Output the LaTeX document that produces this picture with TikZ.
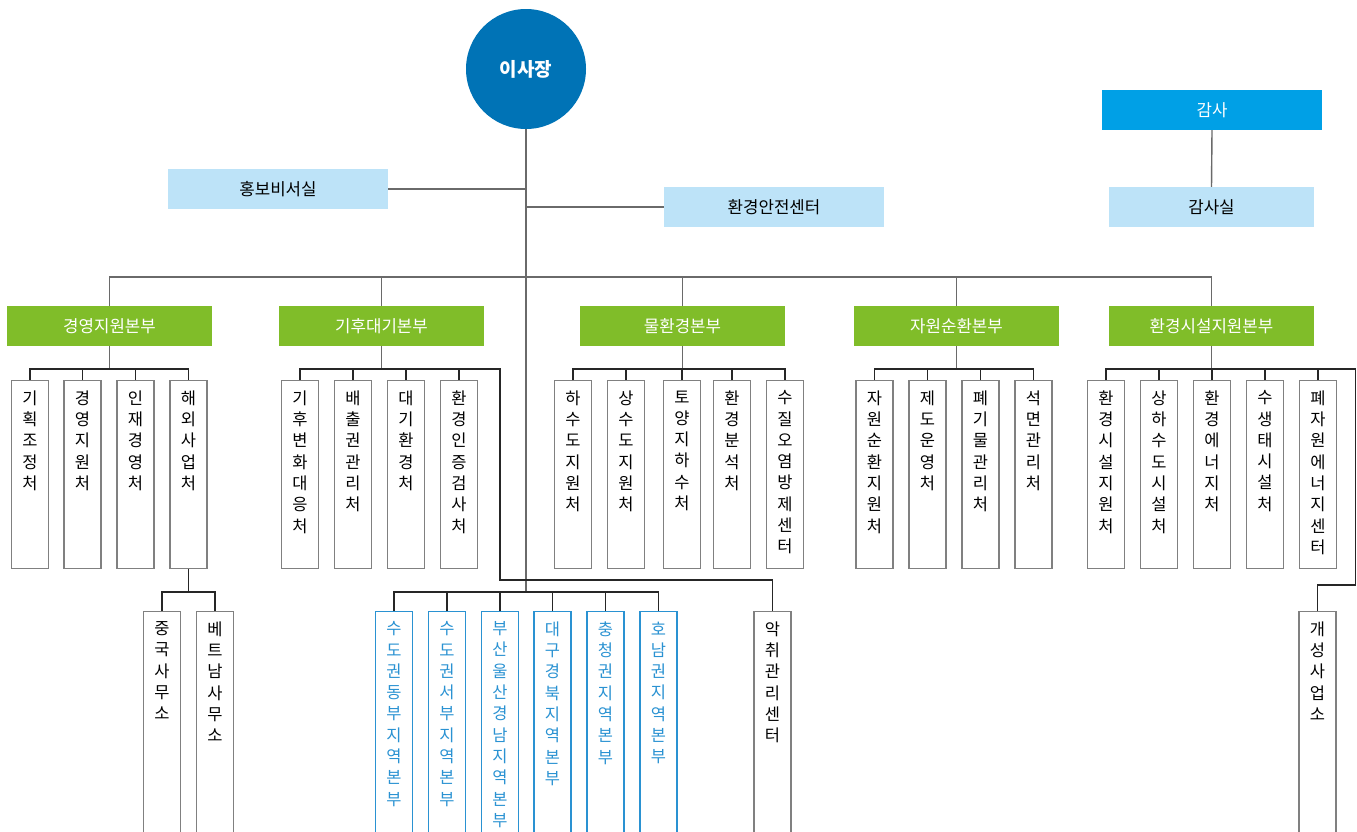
\documentclass[tikz,border=0pt]{standalone}
\usepackage{fontspec}
\setmainfont{Noto Sans CJK KR}
\definecolor{ceoblue}{HTML}{0073B6}
\definecolor{auditblue}{HTML}{00A0E6}
\definecolor{paleblue}{HTML}{BDE3F8}
\definecolor{hqgreen}{HTML}{80BD29}
\definecolor{regblue}{HTML}{2A92D2}
\definecolor{boxgray}{HTML}{808080}
\definecolor{linegray}{HTML}{6A6A6A}
% one character per line
\def\vt#1{\vtstep#1\vtend}
\def\vtstep#1#2\vtend{#1\ifx\relax#2\relax\else\\\vtstep#2\vtend\fi}
\newcommand\vlab[2][168pt]{\parbox[t][#1][t]{17pt}{\centering\expandafter\vt\expandafter{#2}}}
\tikzset{
  chief/.style = {circle,fill=ceoblue,minimum size=120pt,inner sep=0pt,
    text=white,font=\bfseries\fontsize{19}{21}\selectfont},
  staff/.style = {fill=paleblue,minimum width=220pt,minimum height=40pt,
    inner sep=0pt,font=\fontsize{16.8}{19}\selectfont},
  auditor/.style = {staff,fill=auditblue,text=white},
  hq/.style = {staff,fill=hqgreen,text=white,minimum width=205pt},
  unit/.style = {draw=boxgray,line width=1.2pt,minimum width=37pt,
    inner xsep=9.5pt,inner ysep=10pt,anchor=north,
    font=\fontsize{16.5}{21.3}\selectfont},
  region/.style = {unit,draw=regblue,text=regblue},
  link/.style = {draw=linegray,line width=1.4pt},
  sublink/.style = {draw=black!85,line width=1.2pt}
}

\begin{document}
\begin{tikzpicture}[x=1pt,y=-1pt]
  \useasboundingbox (0,0) rectangle (1357,831);
  \clip (0,0) rectangle (1357,831);
  % top
  \node[chief] (ceo) at (526,69) {이사장};
  \node[staff] (pr) at (278,189) {홍보비서실};
  \node[staff] (safety) at (774,207) {환경안전센터};
  \node[auditor] (audit) at (1212,110) {감사};
  \node[staff,minimum width=205pt] (auditoff) at (1211.5,207) {감사실};
  \coordinate (trunk) at (526,592);
  \coordinate (bus) at (0,277);
  \coordinate (sub) at (0,369);
  % headquarters
  \node[hq] (hq1) at (109.5,326) {경영지원본부};
  \node[hq] (hq2) at (381.5,326) {기후대기본부};
  \node[hq] (hq3) at (682.5,326) {물환경본부};
  \node[hq] (hq4) at (956.5,326) {자원순환본부};
  \node[hq] (hq5) at (1211.5,326) {환경시설지원본부};
  % departments
  \foreach \i/\x/\txt in {1/30/기획조정처,2/82.5/경영지원처,3/135.5/인재경영처,4/188.5/해외사업처}
    \node[unit] (a\i) at (\x,380) {\vlab{\txt}};
  \foreach \i/\x/\txt in {1/300/기후변화대응처,2/353/배출권관리처,3/406/대기환경처,4/459/환경인증검사처}
    \node[unit] (b\i) at (\x,380) {\vlab{\txt}};
  \foreach \i/\x/\txt in {1/573/하수도지원처,2/626/상수도지원처,3/682/토양지하수처,4/732/환경분석처,5/785/수질오염방제센터}
    \node[unit] (c\i) at (\x,380) {\vlab{\txt}};
  \foreach \i/\x/\txt in {1/874.5/자원순환지원처,2/927.5/제도운영처,3/980.5/폐기물관리처,4/1033.5/석면관리처}
    \node[unit] (d\i) at (\x,380) {\vlab{\txt}};
  \foreach \i/\x/\txt in {1/1106/환경시설지원처,2/1159/상하수도시설처,3/1212/환경에너지처,4/1265/수생태시설처,5/1318/폐자원에너지센터}
    \node[unit] (e\i) at (\x,380) {\vlab{\txt}};
  % lower row
  \node[unit] (f1) at (162,611) {\vlab[240pt]{중국사무소}};
  \node[unit] (f2) at (215,611) {\vlab[240pt]{베트남사무소}};
  \foreach \i/\x/\txt in {1/394/수도권동부지역본부,2/447/수도권서부지역본부,3/500/부산울산경남지역본부,4/552.5/대구경북지역본부,5/605.5/충청권지역본부,6/658.5/호남권지역본부}
    \node[region] (r\i) at (\x,611) {\vlab[240pt]{\txt}};
  \node[unit] (odor) at (772.5,611) {\vlab[240pt]{악취관리센터}};
  \node[unit] (kaesong) at (1317.5,611) {\vlab[240pt]{개성사업소}};
  \coordinate (odorbend) at (500,580);
  \coordinate (kbend) at (1355.5,585);
  % trunk
  \draw[link] (ceo.south) -- (trunk);
  \draw[link] (pr.east) -- (pr.east -| ceo.south);
  \draw[link] (safety.west) -- (safety.west -| ceo.south);
  \draw[link] (audit.south) -- (auditoff.north);
  \draw[link] (hq1.north) -- (hq1.north |- bus) -| (hq5.north);
  \foreach \h in {2,3,4}
    \draw[link] (hq\h.north) -- (hq\h.north |- bus);
  \foreach \h in {1,...,5}
    \draw[link] (hq\h.south) -- (hq\h.south |- sub);
  % branches
  \draw[sublink] (a1.north) -- (a1.north |- sub) -| (a4.north);
  \draw[sublink] (b1.north) -- (b1.north |- sub) -| (odorbend) -| (odor.north);
  \draw[sublink] (c1.north) -- (c1.north |- sub) -| (c5.north);
  \draw[sublink] (d1.north) -- (d1.north |- sub) -| (d4.north);
  \draw[sublink] (e1.north) -- (e1.north |- sub) -| (kbend) -| (kaesong.north);
  \foreach \n in {a2,a3,b2,b3,b4,c2,c3,c4,d2,d3,e2,e3,e4,e5}
    \draw[sublink] (\n.north) -- (\n.north |- sub);
  \draw[sublink] (a4.south) -- (a4.south |- trunk);
  \draw[sublink] (f1.north) -- (f1.north |- trunk) -| (f2.north);
  \draw[sublink] (r1.north) -- (r1.north |- trunk) -| (r6.north);
  \foreach \n in {r2,r3,r4,r5}
    \draw[sublink] (\n.north) -- (\n.north |- trunk);
\end{tikzpicture}
\end{document}
